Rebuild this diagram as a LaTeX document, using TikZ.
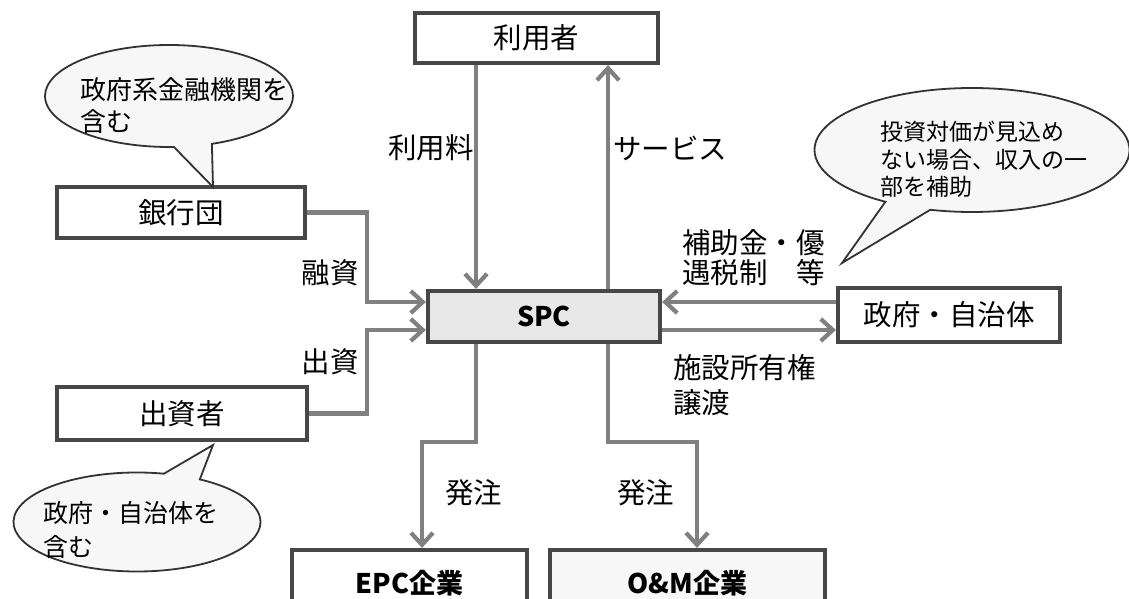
\documentclass[tikz,border=0pt]{standalone}
\usepackage{fontspec}
\setmainfont{Noto Sans CJK JP}
\usetikzlibrary{shapes.callouts,arrows.meta}
\tikzset{
  box/.style={draw=black!72, line width=4.2pt, fill=white, inner sep=0pt, font=\fontsize{28.5}{30}\selectfont},
  bfont/.style={font=\fontsize{27}{30}\selectfont\bfseries},
  conn/.style={draw=black!50, line width=4.2pt},
  arr/.style={conn, -{Straight Barb[length=12pt,width=22pt]}},
  lbl/.style={inner sep=0pt, font=\fontsize{28.5}{30}\selectfont, align=left},
  bubble/.style={ellipse callout, draw=black!80, line width=1.8pt, fill=gray!6, callout pointer arc=18},
}
\begin{document}
\begin{tikzpicture}[x=1pt,y=-1pt]
\useasboundingbox (0,0) rectangle (1129,599);
\clip (0,0) rectangle (1129,599);
\fill[white] (0,0) rectangle (1129,599);

% boxes
\node[box, minimum width=243pt, minimum height=50pt] (user) at (536.5,38) {利用者};
\node[box, bfont, fill=gray!18, minimum width=232pt, minimum height=51pt] (spc) at (544,316.5) {SPC};
\node[box, minimum width=248pt, minimum height=51pt] (bank) at (181,212.5) {銀行団};
\node[box, minimum width=250pt, minimum height=53pt] (inv) at (182,413.5) {出資者};
\node[box, minimum width=222pt, minimum height=54pt] (gov) at (949,315) {政府・自治体};
\node[box, bfont, minimum width=235pt, minimum height=66pt] (epc) at (409.5,583) {EPC企業};
\node[box, bfont, fill=gray!6, minimum width=275pt, minimum height=66pt] (om) at (687.5,583) {O\&M企業};

% helper coordinates
\coordinate (xa) at (476,0);
\coordinate (xs) at (608,0);
\coordinate (xm) at (367,0);
\coordinate (xe) at (422,0);
\coordinate (xo) at (697,0);
\coordinate (ya) at (0,302);
\coordinate (yb) at (0,330);
\coordinate (yc) at (0,442);

% connectors
\draw[arr] (user.south -| xa) -- (spc.north -| xa);
\draw[arr] (spc.north -| xs) -- (user.south -| xs);
\draw[arr] (bank.east) -- (bank.east -| xm) -- (xm |- ya) -- (spc.west |- ya);
\draw[arr] (inv.east) -- (inv.east -| xm) -- (xm |- yb) -- (spc.west |- yb);
\draw[arr] (gov.west |- ya) -- (spc.east |- ya);
\draw[arr] (spc.east |- yb) -- (gov.west |- yb);
\draw[arr] (spc.south -| xa) -- (xa |- yc) -- (xe |- yc) -- (epc.north -| xe);
\draw[arr] (spc.south -| xs) -- (xs |- yc) -- (xo |- yc) -- (om.north -| xo);

% labels
\node[lbl, anchor=east] (lfee) at (474,148) {利用料};
\node[lbl, anchor=west] (lsvc) at (613,148) {サービス};
\node[lbl, anchor=east] (lloan) at (359,273) {融資};
\node[lbl, anchor=east] (leq) at (359,362) {出資};
\node[lbl, anchor=west] (lsub) at (682,258) {補助金・優\\遇税制　等};
\node[lbl, anchor=west, font=\fontsize{28.5}{35}\selectfont] (ltr) at (673,385.5) {施設所有権\\譲渡};
\node[lbl, anchor=west] (lord1) at (445,493) {発注};
\node[lbl, anchor=west] (lord2) at (617,493) {発注};

% callouts
\coordinate (tipa) at (213,187);
\coordinate (tipb) at (213,445);
\coordinate (tipc) at (842,263);
\node[bubble, minimum width=248pt, minimum height=102pt, callout absolute pointer={(tipa)}] (c1) at (169,96) {};
\node[lbl, anchor=west, font=\fontsize{26}{32}\selectfont] (t1) at (80,106) {政府系金融機関を\\含む};
\node[bubble, minimum width=247pt, minimum height=99pt, callout absolute pointer={(tipb)}] (c2) at (137,522) {};
\node[lbl, anchor=west, font=\fontsize{25}{34}\selectfont] (t2) at (43,530) {政府・自治体を\\含む};
\node[bubble, minimum width=315pt, minimum height=124pt, callout absolute pointer={(tipc)}] (c3) at (972,150) {};
\node[lbl, anchor=west, font=\fontsize{23}{27.5}\selectfont] (t3) at (880,159.5) {投資対価が見込め\\ない場合、収入の一\\部を補助};
\end{tikzpicture}
\end{document}
